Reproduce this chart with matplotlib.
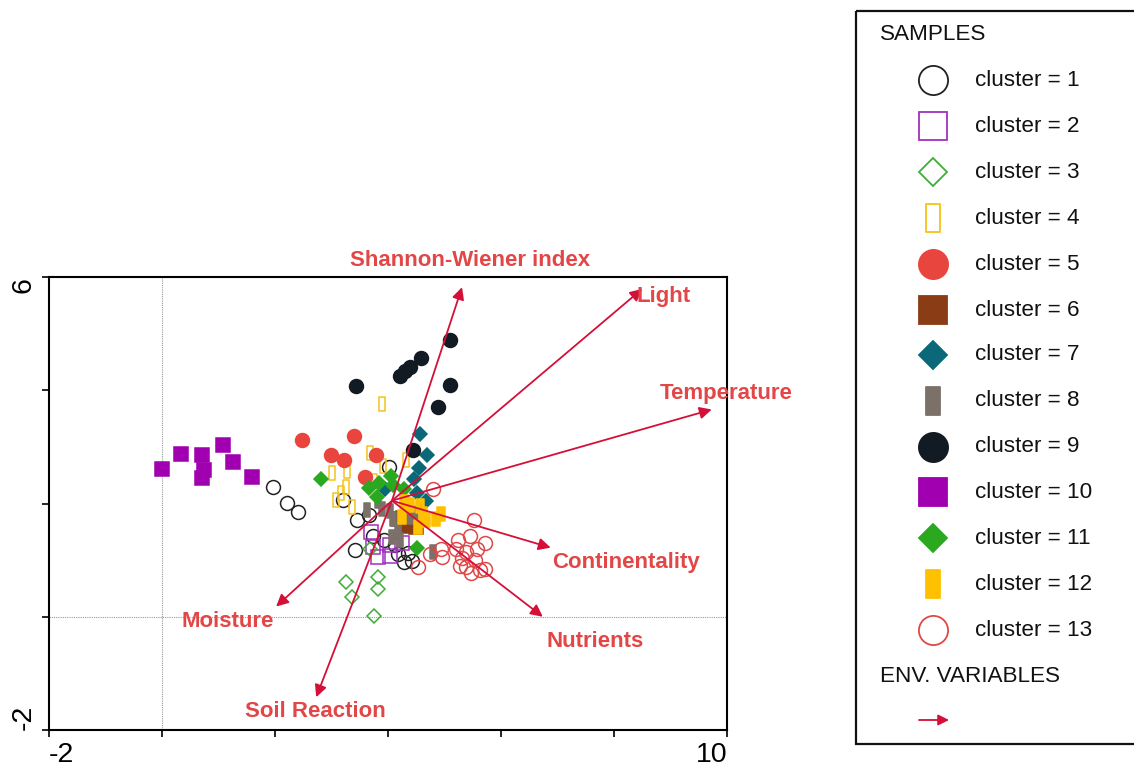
import matplotlib
matplotlib.use("Agg")
import matplotlib.pyplot as plt
from matplotlib.path import Path
from matplotlib.patches import Rectangle
import numpy as np

plt.rcParams['font.family'] = ['Liberation Sans', 'DejaVu Sans']

# ---------------- data ----------------
c1_x = [1.96, 2.21, 2.40, 3.45, 3.66, 3.73, 3.42, 4.18, 4.28, 4.42, 4.35, 4.12, 3.93, 4.02, 3.20]
c1_y = [2.30, 2.01, 1.85, 1.70, 1.79, 1.42, 1.17, 1.10, 0.96, 0.99, 1.13, 1.27, 1.36, 2.65, 2.07]
c2_x = [3.70, 3.74, 3.82, 4.04, 4.04, 4.25]
c2_y = [1.50, 1.24, 1.06, 1.08, 1.26, 1.31]
c3_x = [3.25, 3.82, 3.82, 3.37, 3.75, 3.68]
c3_y = [0.61, 0.71, 0.49, 0.34, 0.01, 1.20]
c4_x = [3.89, 3.00, 3.27, 3.69, 4.32, 3.92, 3.26, 3.08, 3.17, 3.36, 3.75]
c4_y = [3.75, 2.53, 2.58, 2.90, 2.76, 2.66, 2.30, 2.07, 2.19, 1.93, 2.39]
c5_x = [2.48, 3.40, 2.99, 3.22, 3.79, 3.59]
c5_y = [3.13, 3.20, 2.85, 2.76, 2.85, 2.46]
c6_x = [4.27, 4.33, 4.50, 4.19]
c6_y = [1.75, 1.61, 1.58, 1.72]
c7_x = [4.57, 4.69, 4.55, 4.46, 4.51, 4.67, 3.95]
c7_y = [3.22, 2.85, 2.62, 2.44, 2.18, 2.05, 2.25]
c8_x = [3.63, 3.82, 3.89, 4.04, 4.09, 4.18, 4.21, 4.07, 4.39, 4.48, 4.80]
c8_y = [1.89, 2.04, 1.91, 1.86, 1.72, 1.54, 1.36, 1.40, 1.77, 1.84, 1.15]
c9_x = [5.10, 4.58, 4.39, 4.30, 4.21, 3.43, 5.10, 4.88, 4.44]
c9_y = [4.88, 4.57, 4.41, 4.34, 4.25, 4.07, 4.09, 3.70, 2.94]
c10_x = [0.00, 0.34, 0.70, 0.75, 0.70, 1.08, 1.26, 1.59]
c10_y = [2.61, 2.88, 2.85, 2.60, 2.45, 3.03, 2.74, 2.46]
c11_x = [2.81, 3.66, 3.84, 4.05, 4.09, 3.80, 4.28, 4.51]
c11_y = [2.44, 2.27, 2.37, 2.48, 2.32, 2.12, 2.25, 1.22]
c12_x = [4.28, 4.39, 4.57, 4.62, 4.25, 4.94, 4.85, 4.53, 4.68]
c12_y = [2.02, 1.98, 1.95, 1.81, 1.77, 1.82, 1.72, 1.59, 1.70]
c13_x = [4.80, 5.52, 5.45, 5.72, 5.24, 5.58, 5.20, 5.38, 4.94, 4.96, 5.31, 5.54, 5.72, 5.38, 5.27, 5.47, 5.63, 4.53, 4.74]
c13_y = [2.25, 1.70, 1.43, 1.31, 1.35, 1.19, 1.19, 1.15, 1.20, 1.06, 1.04, 1.01, 0.85, 0.87, 0.90, 0.78, 0.83, 0.87, 1.10]

cluster_labels = [f"cluster = {i}" for i in range(1, 14)]

env_names = ["Shannon-Wiener index", "Light", "Temperature", "Continentality",
             "Nutrients", "Soil Reaction", "Moisture"]
arrow_origin = (4.07, 2.05)
env_tip_x = [5.31, 8.50, 9.73, 6.88, 6.74, 2.73, 2.02]
env_tip_y = [5.82, 5.79, 3.66, 1.22, 0.00, -1.42, 0.18]
env_lab_x = [5.45, 8.39, 8.81, 6.90, 6.80, 2.71, 1.17]
env_lab_y = [6.29, 5.66, 3.94, 0.95, -0.44, -1.68, -0.09]
env_lab_ha = ['center', 'left', 'left', 'left', 'left', 'center', 'center']

xticks = [-2, 0, 2, 4, 6, 8, 10]
xticklabels = ['-2', '', '', '', '', '', '10']
yticks = [-2, 0, 2, 4, 6]
yticklabels = ['-2', '', '', '', '6']

# ---------------- styles ----------------
rect_marker = Path([(-0.5, -1), (0.5, -1), (0.5, 1), (-0.5, 1), (-0.5, -1)],
                   [Path.MOVETO, Path.LINETO, Path.LINETO, Path.LINETO, Path.CLOSEPOLY])

ARROW_C = '#d41038'
LABEL_C = '#e24646'

# (marker, facecolor, edgecolor, main size pt, legend size pt)
styles = [
    ('o', 'none', '#222222', 10, 21),
    ('s', 'none', '#a030c0', 9.4, 20),
    ('D', 'none', '#3cae34', 7.0, 14.3),
    (rect_marker, 'none', '#f7c21a', 9.6, 20),
    ('o', '#e8453f', '#e8453f', 10, 21),
    ('s', '#8a3c14', '#8a3c14', 9.4, 20),
    ('D', '#0a6878', '#0a6878', 7.0, 14.3),
    (rect_marker, '#7b7168', '#7b7168', 10, 20),
    ('o', '#121a24', '#121a24', 10, 21),
    ('s', '#a000b0', '#a000b0', 9.8, 20),
    ('D', '#2aa820', '#2aa820', 7.0, 14.3),
    (rect_marker, '#ffc000', '#ffc000', 10.5, 20),
    ('o', 'none', '#e04848', 10, 21),
]

xs = [c1_x, c2_x, c3_x, c4_x, c5_x, c6_x, c7_x, c8_x, c9_x, c10_x, c11_x, c12_x, c13_x]
ys = [c1_y, c2_y, c3_y, c4_y, c5_y, c6_y, c7_y, c8_y, c9_y, c10_y, c11_y, c12_y, c13_y]

W, H = 1134, 767
fig = plt.figure(figsize=(W / 100, H / 100), dpi=100)
ax = fig.add_axes([49 / W, 37 / H, 678 / W, 453 / H])

ax.axvline(0, color='#999999', lw=0.8, ls=(0, (1, 1)), zorder=0)
ax.axhline(0, color='#999999', lw=0.8, ls=(0, (1, 1)), zorder=0)

for (m, fc, ec, ms, _), x, y in zip(styles, xs, ys):
    ax.plot(x, y, ls='none', marker=m, markersize=ms, markerfacecolor=fc,
            markeredgecolor=ec, markeredgewidth=1.1, zorder=2)

for tx, ty in zip(env_tip_x, env_tip_y):
    ax.annotate('', xy=(tx, ty), xytext=arrow_origin, zorder=4,
                arrowprops=dict(arrowstyle='-|>', color=ARROW_C, lw=1.3,
                                mutation_scale=18, shrinkA=0, shrinkB=0))
for name, lx, ly, ha in zip(env_names, env_lab_x, env_lab_y, env_lab_ha):
    ax.text(lx, ly, name, color=LABEL_C, fontsize=16, fontweight='bold',
            ha=ha, va='center', zorder=5, clip_on=False)

ax.set_xlim(-2, 10)
ax.set_ylim(-2, 6)
ax.set_xticks(xticks)
ax.set_xticklabels(xticklabels, fontsize=20.5)
ax.set_yticks(yticks)
ax.set_yticklabels(yticklabels, fontsize=20.5, rotation=90)
ax.tick_params(direction='out', length=5, width=1.2, pad=4)
xl = ax.get_xticklabels()
xl[0].set_ha('left'); xl[-1].set_ha('right')
yl = ax.get_yticklabels()
yl[0].set_va('bottom'); yl[-1].set_va('top')
for s in ax.spines.values():
    s.set_linewidth(1.5)

# ---------------- legend panel ----------------
lg = fig.add_axes([0, 0, 1, 1], zorder=10)
lg.set_xlim(0, W)
lg.set_ylim(H, 0)
lg.axis('off')
lg.patch.set_alpha(0)
lg.add_patch(Rectangle((856, 11), 320, 733, fill=False, lw=1.6, ec='#111111', clip_on=False))
lg.text(880, 35, 'SAMPLES', fontsize=16.2, ha='left', va='center', color='#111111')
row_y = [80, 126, 172, 218, 264, 310, 355, 401, 447, 492, 538, 584, 630]
for (m, fc, ec, _, lms), yy, lab in zip(styles, row_y, cluster_labels):
    lg.plot([933], [yy], ls='none', marker=m, markersize=lms, markerfacecolor=fc,
            markeredgecolor=ec, markeredgewidth=1.3)
    lg.text(975, yy, lab, fontsize=16.2, ha='left', va='center', color='#111111')
lg.text(880, 676, 'ENV. VARIABLES', fontsize=16.2, ha='left', va='center', color='#111111')
lg.annotate('', xy=(949, 720), xytext=(919, 720),
            arrowprops=dict(arrowstyle='-|>', color=ARROW_C, lw=1.3,
                            mutation_scale=16, shrinkA=0, shrinkB=0))

fig.savefig('out.png', dpi=100)
